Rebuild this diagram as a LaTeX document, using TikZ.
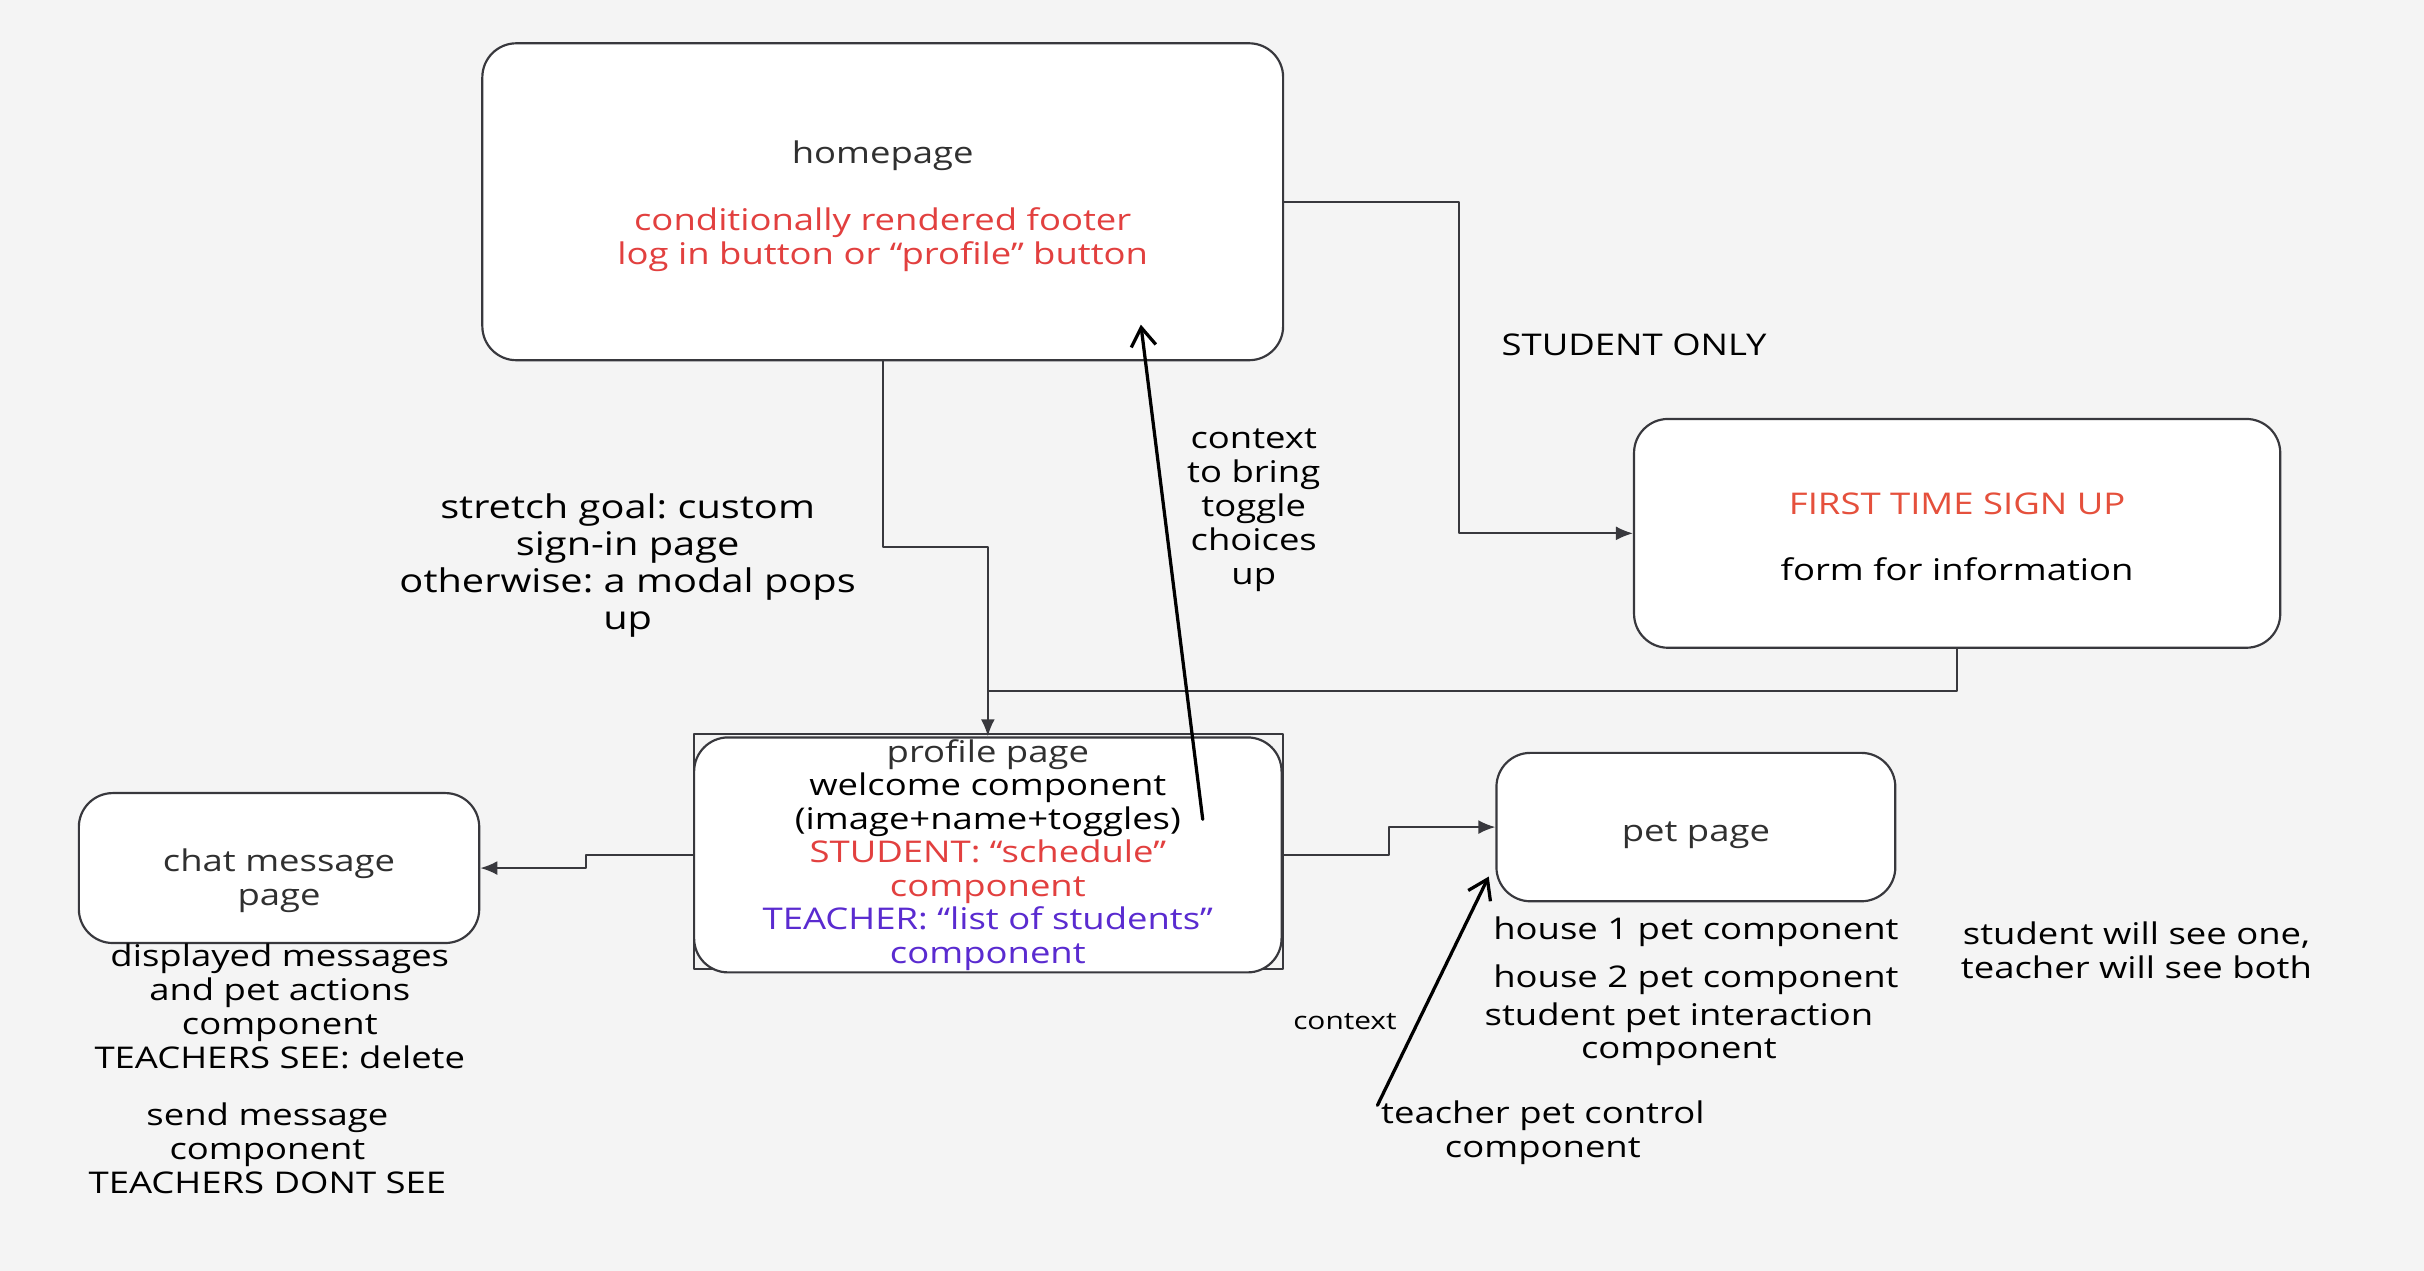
\documentclass[tikz,border=0pt]{standalone}
\usepackage{fontspec}
\setmainfont[FakeStretch=1.22]{Open Sans}
\usetikzlibrary{arrows.meta}
\definecolor{bg}{HTML}{F4F4F4}
\definecolor{edge}{HTML}{38383D}
\definecolor{ink}{HTML}{303030}
\definecolor{redtxt}{HTML}{E2403F}
\definecolor{signred}{HTML}{E5503C}
\definecolor{teachc}{HTML}{5A2BD0}
\frenchspacing
\begin{document}
\begin{tikzpicture}[x=0.2mm,y=-0.2mm,font=\fontsize{11}{12.5}\selectfont,line join=round,line cap=round,
	page/.style={draw=edge,line width=0.8pt,fill=white,rounded corners=4.4mm,align=center,text=ink,inner sep=0pt},
	link/.style={draw=edge,line width=0.7pt,-{Latex[length=2.2mm,width=1.8mm]}},
	hint/.style={line width=1.2pt,-{Straight Barb[length=2.4mm,width=3.2mm]}},
	note/.style={align=center}]
	\fill[bg] (0,0) rectangle (1568,822);
	\node[page,minimum width=103.6mm,minimum height=41mm] (home) at (571,130.5) {\\[-1pt]homepage\\[12pt]\textcolor{redtxt}{conditionally rendered footer}\\\textcolor{redtxt}{log in button or “profile” button}};
	\node[page,minimum width=83.6mm,minimum height=29.6mm] (signup) at (1266,345) {\\[-2pt]\textcolor{signred}{FIRST TIME SIGN UP}\\[12pt]\textcolor{black}{form for information}};
	\draw[edge,line width=0.8pt] (449,475) rectangle (830,627);
	\node[page,minimum width=76mm,minimum height=30.4mm,font=\fontsize{11}{12.3}\selectfont] (profile) at (639,553) {profile page\\\textcolor{black}{welcome component}\\\textcolor{black}{(image+name+toggles)}\\\textcolor{redtxt}{STUDENT: “schedule”}\\\textcolor{redtxt}{component}\\\textcolor{teachc}{TEACHER: “list of students”}\\\textcolor{teachc}{component}};
	\node[page,minimum width=51.8mm,minimum height=19.4mm] (chat) at (180.5,561.5) {\\[5pt]chat message\\page};
	\node[page,minimum width=51.6mm,minimum height=19.2mm] (pet) at (1097,535) {\\[1pt]pet page};
	\node[note] (studentonly) at (1057,223) {STUDENT ONLY};
	\node[note,font=\fontsize{12}{13.6}\selectfont] (stretch) at (406,366) {stretch goal: custom\\sign-in page\\otherwise: a modal pops\\up};
	\node[note] (ctxnote) at (811,330) {context\\to bring\\toggle\\choices\\up};
	\node[note] (chatnotes) at (181,651) {displayed messages\\and pet actions\\component\\TEACHERS SEE: delete};
	\node[note] (sendnotes) at (173,742.5) {send message\\component\\TEACHERS DONT SEE};
	\node[note] (house1) at (1097,603) {house 1 pet component};
	\node[note] (house2) at (1097,634) {house 2 pet component};
	\node[note] (interact) at (1086,669) {student pet interaction\\component};
	\node[note] (seeboth) at (1382,615) {student will see one,\\teacher will see both};
	\node[note,font=\fontsize{9}{11}\selectfont] (ctxpet) at (870,661) {context};
	\node[note] (ctrl) at (998,732.5) {teacher pet control\\component};
	\coordinate (join) at (640,447);
	\coordinate (togg) at (778,530);
	\coordinate (homein) at (738,210);
	\coordinate (ctrltip) at (891,715);
	\coordinate (petin) at (963,567);
	\draw[link] (home.east) -- ++(113,0) |- (signup.west);
	\draw[link] (home.south) -- ++(0,120) -| (profile.north);
	\draw[draw=edge,line width=0.7pt] (signup.south) |- (join);
	\draw[link] (profile.west) -- ++(-69,0) |- (chat.east);
	\draw[link] (profile.east) -- ++(69,0) |- (pet.west);
	\draw[hint] (togg) -- (homein);
	\draw[hint] (ctrltip) -- (petin);
\end{tikzpicture}
\end{document}
